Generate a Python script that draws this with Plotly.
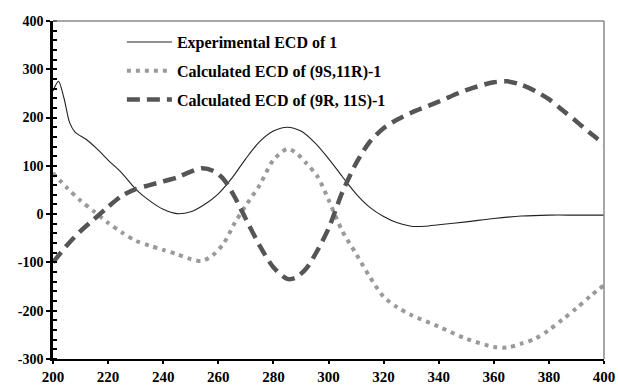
import plotly.graph_objects as go

# Experimental ECD of 1
exp_x = [200, 202, 204, 206, 208, 212, 216, 220, 225, 230, 235, 240, 245, 250, 255, 260,
         265, 270, 275, 280, 285, 290, 295, 300, 305, 310, 315, 320, 325, 330, 335, 340,
         350, 360, 370, 380, 390, 400]
exp_y = [255, 275, 240, 190, 170, 155, 135, 112, 85, 52, 28, 10, 1, 5, 20, 42,
         75, 115, 150, 172, 180, 172, 148, 115, 78, 42, 14, -5, -18, -25, -25, -22,
         -16, -9, -4, -2, -2, -2]

# Calculated ECD of (9S,11R)-1
s_x = [200, 205, 210, 215, 220, 225, 230, 235, 240, 245, 250, 254, 258, 262, 266, 270,
       275, 280, 285, 288, 292, 296, 300, 305, 310, 315, 320, 325, 330, 340, 350, 360,
       365, 370, 375, 380, 385, 390, 395, 400]
s_y = [85, 55, 28, 5, -18, -38, -55, -65, -74, -83, -93, -97, -85, -60, -18, 18,
       60, 112, 135, 128, 105, 78, 30, -35, -82, -130, -171, -193, -209, -233, -258, -275,
       -276, -268, -258, -240, -218, -195, -170, -147]

# Calculated ECD of (9R, 11S)-1
r_x = [200, 205, 210, 215, 220, 225, 230, 235, 240, 245, 250, 254, 258, 262, 266, 270,
       275, 280, 285, 288, 292, 296, 300, 305, 310, 315, 320, 325, 330, 340, 350, 360,
       365, 370, 375, 380, 385, 390, 395, 400]
r_y = [-100, -65, -35, -10, 15, 38, 52, 60, 68, 76, 88, 95, 90, 72, 35, -10,
       -65, -110, -134, -132, -112, -75, -30, 45, 105, 150, 178, 196, 210, 233, 257, 273,
       275, 268, 255, 238, 215, 192, 168, 145]

x_ticks = [200, 220, 240, 260, 280, 300, 320, 340, 360, 380, 400]
y_ticks = [-300, -200, -100, 0, 100, 200, 300, 400]

font_family = "Liberation Serif, Times New Roman, DejaVu Serif, serif"

fig = go.Figure()
fig.add_trace(go.Scatter(x=exp_x, y=exp_y, mode="lines", name="<b>Experimental ECD of 1</b>",
                         line=dict(color="#222222", width=1.1, shape="spline", smoothing=0.8),
                         legendgroup="a"))
fig.add_trace(go.Scatter(x=s_x, y=s_y, mode="lines", name="<b>Calculated ECD of (9S,11R)-1</b>",
                         line=dict(color="#9a9a9a", width=4, dash="4px,5px", shape="spline", smoothing=0.8),
                         legendgroup="b"))
fig.add_trace(go.Scatter(x=r_x, y=r_y, mode="lines", name="<b>Calculated ECD of (9R, 11S)-1</b>",
                         line=dict(color="#555555", width=4.5, dash="13px,7px", shape="spline", smoothing=0.8),
                         legendgroup="c"))

fig.update_layout(
    width=618, height=385,
    margin=dict(l=53, r=14, t=21, b=26),
    paper_bgcolor="white", plot_bgcolor="white",
    font=dict(family=font_family, size=14, color="black"),
    showlegend=True,
    legend=dict(x=0.125, y=0.988, xanchor="left", yanchor="top", bgcolor="rgba(0,0,0,0)",
                font=dict(family=font_family, size=16, color="black"),
                traceorder="grouped", tracegroupgap=5, itemwidth=45),
    xaxis=dict(range=[200, 400], tickvals=x_ticks, ticktext=[f"<b>{v}</b>" for v in x_ticks],
               tickfont=dict(size=15),
               showgrid=False, zeroline=False, showline=True, linecolor="black", linewidth=2,
               ticks="outside", ticklen=3, tickwidth=2, tickcolor="black", automargin=False),
    yaxis=dict(range=[-300, 400], tickvals=y_ticks, ticktext=[f"<b>{v}</b>" for v in y_ticks],
               tickfont=dict(size=14),
               showgrid=False, zeroline=False, showline=True, linecolor="black", linewidth=2.5,
               ticks="outside", ticklen=4, tickwidth=2, tickcolor="black", automargin=False,
               minor=dict(dtick=20, ticks="inside", ticklen=4, tickwidth=1.5, tickcolor="black")),
    shapes=[
        dict(type="line", xref="paper", yref="paper", x0=0, x1=1, y0=1, y1=1,
             line=dict(color="#8a8a8a", width=1.5)),
        dict(type="line", xref="paper", yref="paper", x0=1, x1=1, y0=0, y1=1,
             line=dict(color="#8a8a8a", width=1.5)),
    ],
)

fig.write_html("out.html", config={"displayModeBar": False},
               post_script="document.body.style.margin='0';document.body.style.overflow='hidden';")
